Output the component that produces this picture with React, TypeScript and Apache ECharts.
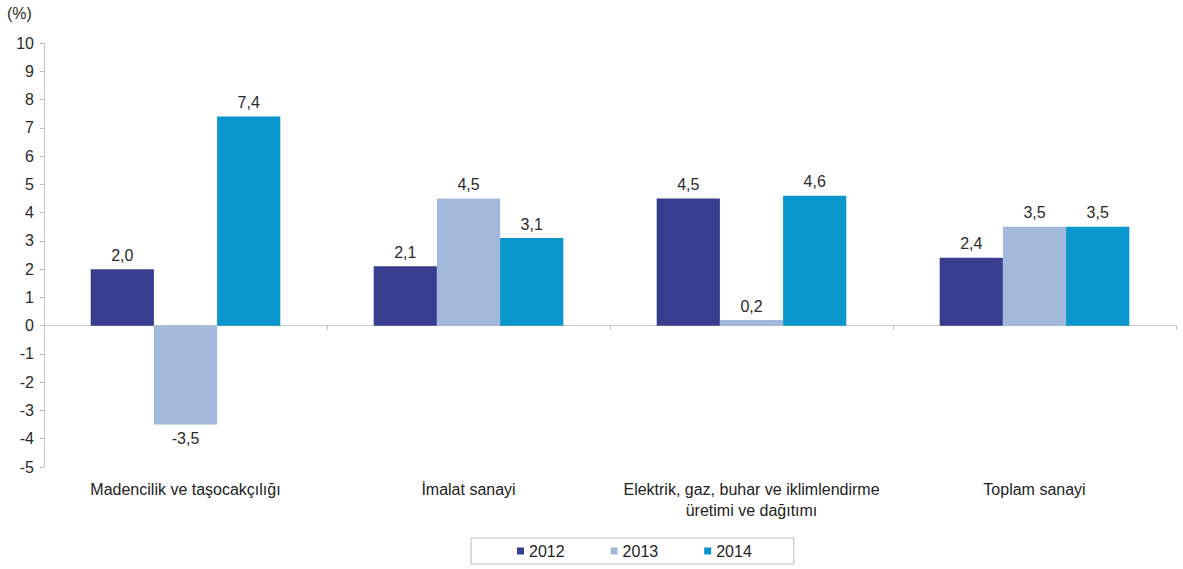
import React, { useEffect, useRef } from "react";
import * as echarts from "echarts";

const categories = [
  "Madencilik ve taşocakçılığı",
  "İmalat sanayi",
  "Elektrik, gaz, buhar ve iklimlendirme\nüretimi ve dağıtımı",
  "Toplam sanayi",
];
const years = ["2012", "2013", "2014"];
const values2012 = [2.0, 2.1, 4.5, 2.4];
const values2013 = [-3.5, 4.5, 0.2, 3.5];
const values2014 = [7.4, 3.1, 4.6, 3.5];
const colors = ["#383D8F", "#A3B9DC", "#0896CD"];
const unitLabel = "(%)";

export default function App() {
  const ref = useRef<HTMLDivElement>(null);
  useEffect(() => {
    if (!ref.current) return;
    const chart = echarts.init(ref.current, undefined, { renderer: "svg" });
    const font = "'Liberation Sans', Arial, sans-serif";
    const mk = (name: string, vals: number[], color: string) => ({
      name,
      type: "bar",
      xAxisIndex: 0,
      barGap: "0%",
      barCategoryGap: "33%",
      itemStyle: { color },
      label: {
        show: true,
        position: "top",
        distance: 6,
        fontFamily: font,
        fontSize: 16,
        color: "#2a2a2a",
        formatter: (p: any) => Number(p.value).toFixed(1).replace(".", ","),
      },
      data: vals.map((v) =>
        v < 0 ? { value: v, label: { position: "bottom" } } : { value: v }
      ),
    });
    chart.setOption({
      animation: false,
      textStyle: { fontFamily: font },
      grid: { left: 44, right: 7, top: 43, bottom: 102, containLabel: false },
      graphic: [
        {
          type: "text",
          left: 7,
          top: 5,
          style: { text: unitLabel, fontFamily: font, fontSize: 16, fill: "#2a2a2a" },
        },
      ],
      legend: {
        data: years,
        left: 471,
        top: 538,
        itemWidth: 7,
        itemHeight: 7,
        itemGap: 46,
        padding: [5, 42, 5, 46],
        borderColor: "#bbb",
        borderWidth: 1,
        icon: "rect",
        textStyle: { fontFamily: font, fontSize: 16, color: "#222" },
      },
      xAxis: [
        {
          type: "category",
          data: categories,
          axisLine: { show: true, onZero: true, lineStyle: { color: "#c8c8c8", width: 1 } },
          axisTick: { show: true, length: 4, lineStyle: { color: "#bbb" } },
          axisLabel: { show: false },
        },
        {
          type: "category",
          data: categories,
          position: "bottom",
          axisLine: { show: false, onZero: false },
          axisTick: { show: false },
          axisLabel: {
            show: true,
            margin: 12,
            fontFamily: font,
            fontSize: 16,
            lineHeight: 21,
            color: "#222",
            interval: 0,
          },
        },
      ],
      yAxis: {
        type: "value",
        min: -5,
        max: 10,
        interval: 1,
        splitLine: { show: false },
        axisLine: { show: true, lineStyle: { color: "#c8c8c8" } },
        axisTick: { show: true, length: 4, lineStyle: { color: "#bbb" } },
        axisLabel: { fontFamily: font, fontSize: 16, color: "#2a2a2a", margin: 10 },
      },
      series: [
        mk(years[0], values2012, colors[0]),
        mk(years[1], values2013, colors[1]),
        mk(years[2], values2014, colors[2]),
      ],
    });
    return () => chart.dispose();
  }, []);
  return (
    <div
      ref={ref}
      style={{ position: "fixed", left: 0, top: 0, width: 1183, height: 569, background: "#fff" }}
    />
  );
}
